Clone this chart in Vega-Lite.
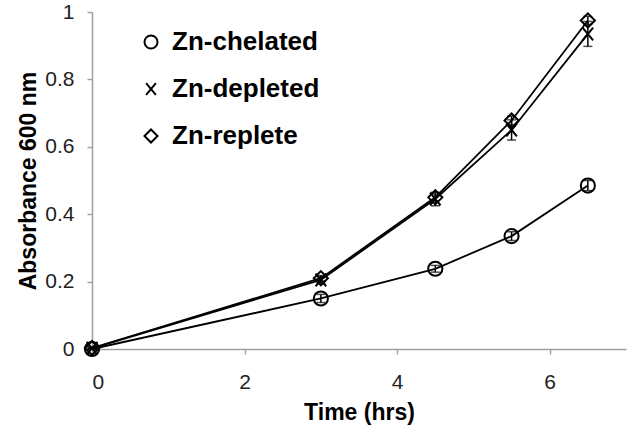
{
  "$schema": "https://vega.github.io/schema/vega-lite/v6.json",
  "width": 534,
  "height": 337,
  "autosize": {"type": "none"},
  "padding": {"left": 92, "top": 12, "right": 4, "bottom": 91},
  "config": {
    "view": {"stroke": null},
    "font": "Liberation Sans",
    "axis": {
      "grid": false,
      "domainColor": "#a0a0a0",
      "domainWidth": 1.5,
      "tickColor": "#a0a0a0",
      "tickWidth": 1.5,
      "tickSize": 5,
      "labelFont": "Liberation Sans",
      "labelFontSize": 21,
      "labelColor": "#222222",
      "titleFont": "Liberation Sans",
      "titleFontSize": 23,
      "titleFontWeight": "bold",
      "titleColor": "#000000"
    }
  },
  "data": {
    "values": [
      {"time": 0, "abs": 0.0, "lo": 0.0, "hi": 0.005, "series": "Zn-chelated"},
      {"time": 3, "abs": 0.150, "lo": 0.138, "hi": 0.162, "series": "Zn-chelated"},
      {"time": 4.5, "abs": 0.238, "lo": 0.228, "hi": 0.248, "series": "Zn-chelated"},
      {"time": 5.5, "abs": 0.335, "lo": 0.322, "hi": 0.348, "series": "Zn-chelated"},
      {"time": 6.5, "abs": 0.485, "lo": 0.470, "hi": 0.500, "series": "Zn-chelated"},
      {"time": 0, "abs": 0.002, "lo": 0.0, "hi": 0.005, "series": "Zn-depleted"},
      {"time": 3, "abs": 0.205, "lo": 0.195, "hi": 0.215, "series": "Zn-depleted"},
      {"time": 4.5, "abs": 0.445, "lo": 0.425, "hi": 0.465, "series": "Zn-depleted"},
      {"time": 5.5, "abs": 0.650, "lo": 0.620, "hi": 0.680, "series": "Zn-depleted"},
      {"time": 6.5, "abs": 0.935, "lo": 0.898, "hi": 0.972, "series": "Zn-depleted"},
      {"time": 0, "abs": 0.003, "lo": 0.0, "hi": 0.006, "series": "Zn-replete"},
      {"time": 3, "abs": 0.210, "lo": 0.202, "hi": 0.218, "series": "Zn-replete"},
      {"time": 4.5, "abs": 0.450, "lo": 0.440, "hi": 0.460, "series": "Zn-replete"},
      {"time": 5.5, "abs": 0.678, "lo": 0.665, "hi": 0.691, "series": "Zn-replete"},
      {"time": 6.5, "abs": 0.975, "lo": 0.963, "hi": 0.987, "series": "Zn-replete"}
    ]
  },
  "encoding": {
    "x": {
      "field": "time",
      "type": "quantitative",
      "scale": {"domain": [0, 7], "nice": false},
      "axis": {"values": [0, 2, 4, 6], "title": "Time (hrs)", "labelPadding": 17, "titlePadding": 9}
    },
    "y": {
      "field": "abs",
      "type": "quantitative",
      "scale": {"domain": [0, 1], "nice": false},
      "axis": {"values": [0, 0.2, 0.4, 0.6, 0.8, 1], "format": "~g", "title": "Absorbance 600 nm", "labelPadding": 13, "titlePadding": 4}
    }
  },
  "layer": [
    {
      "mark": {"type": "line", "color": "black", "strokeWidth": 1.8},
      "encoding": {"detail": {"field": "series", "type": "nominal"}}
    },
    {
      "mark": {"type": "errorbar", "color": "black", "thickness": 1.5, "ticks": {"size": 9, "thickness": 1.5, "color": "black"}},
      "encoding": {
        "y": {"field": "lo", "type": "quantitative"},
        "y2": {"field": "hi"},
        "detail": {"field": "series", "type": "nominal"}
      }
    },
    {
      "mark": {"type": "point", "filled": false, "stroke": "black", "strokeWidth": 2, "size": 200, "opacity": 1},
      "encoding": {
        "shape": {
          "field": "series",
          "type": "nominal",
          "scale": {
            "domain": ["Zn-chelated", "Zn-depleted", "Zn-replete"],
            "range": ["circle", "M-0.75,-0.9L0.75,0.9M0.75,-0.9L-0.75,0.9", "diamond"]
          },
          "legend": {
            "title": null,
            "orient": "none",
            "legendX": 46,
            "legendY": 17,
            "labelFont": "Liberation Sans",
            "labelFontSize": 26,
            "labelFontWeight": "bold",
            "labelColor": "#000000",
            "labelOffset": 8,
            "rowPadding": 21,
            "symbolSize": 170,
            "symbolStrokeColor": "black",
            "symbolStrokeWidth": 2,
            "symbolOpacity": 1
          }
        }
      }
    }
  ]
}
